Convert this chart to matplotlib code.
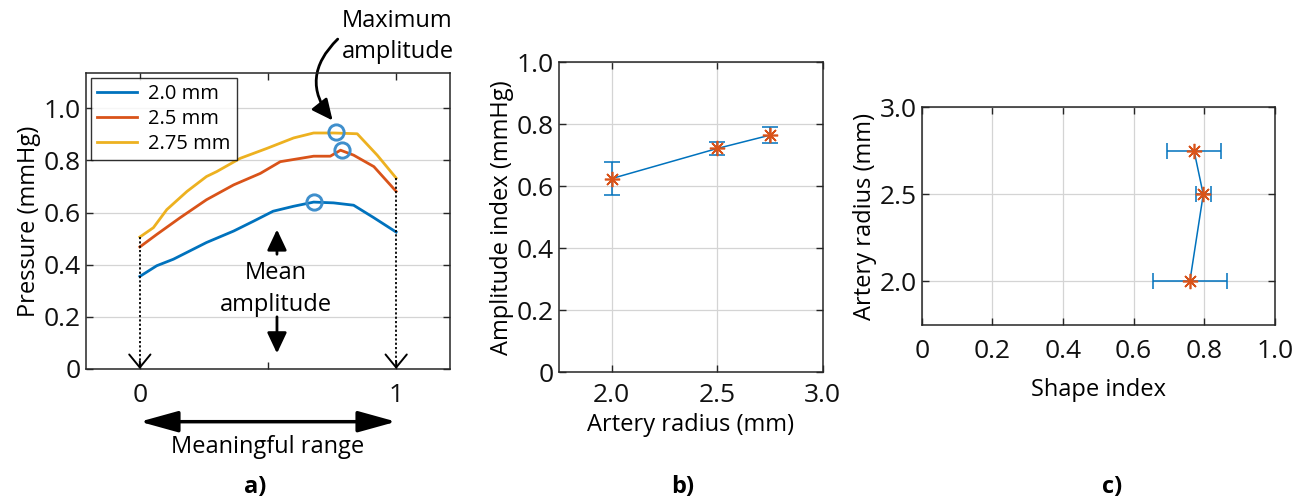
import matplotlib
matplotlib.use("Agg")
import matplotlib.pyplot as plt
import matplotlib.transforms as mtransforms
from matplotlib.patches import FancyArrowPatch

plt.rcParams['font.family'] = ['Open Sans', 'DejaVu Sans']
plt.rcParams['font.size'] = 17

# ---------------- data ----------------
# panel a: normalized pressure curves
x_20 = [0, 0.066, 0.131, 0.26, 0.366, 0.444, 0.52, 0.6, 0.678, 0.756, 0.834, 0.913, 1.0]
y_20 = [0.355, 0.396, 0.421, 0.485, 0.529, 0.567, 0.605, 0.624, 0.640, 0.637, 0.628, 0.58, 0.525]
x_25 = [0, 0.066, 0.157, 0.26, 0.366, 0.47, 0.548, 0.678, 0.743, 0.783, 0.834, 0.913, 1.0]
y_25 = [0.468, 0.516, 0.58, 0.649, 0.706, 0.75, 0.795, 0.816, 0.816, 0.839, 0.82, 0.776, 0.681]
x_275 = [0, 0.053, 0.105, 0.184, 0.26, 0.30, 0.392, 0.496, 0.60, 0.678, 0.756, 0.848, 0.926, 1.0]
y_275 = [0.506, 0.542, 0.611, 0.681, 0.738, 0.757, 0.808, 0.846, 0.886, 0.905, 0.905, 0.902, 0.82, 0.732]
series_labels = ['2.0 mm', '2.5 mm', '2.75 mm']
peak_x = [0.678, 0.79, 0.766]
peak_y = [0.640, 0.839, 0.909]

# panel b
radius = [2.0, 2.5, 2.75]
amp_index = [0.625, 0.722, 0.765]
amp_err = [0.054, 0.022, 0.026]

# panel c
shape_index = [0.759, 0.797, 0.771]
shape_err = [0.105, 0.021, 0.076]

a_yticks = [0, 0.2, 0.4, 0.6, 0.8, 1.0]
a_yticklabels = ['0', '0.2', '0.4', '0.6', '0.8', '1.0']
b_xticks = [2.0, 2.5, 3.0]
b_xticklabels = ['2.0', '2.5', '3.0']
c_xticks = [0, 0.2, 0.4, 0.6, 0.8, 1.0]
c_xticklabels = ['0', '0.2', '0.4', '0.6', '0.8', '1.0']

BLUE = '#0072BD'
ORANGE = '#D95319'
YELLOW = '#EDB120'
CIRC = '#3f8fcc'
FRAME = '#262626'
GRID = '#d4d4d4'
TICKFS = 19
LABFS = 17

fig = plt.figure(figsize=(13.07, 5.0), dpi=100)

def style(ax):
    for s in ax.spines.values():
        s.set_color(FRAME)
        s.set_linewidth(1.1)
    ax.tick_params(direction='in', length=5, width=1, colors=FRAME,
                   top=True, right=True, labelsize=TICKFS, labelcolor='#111111')

# ---------------- panel a ----------------
ax1 = fig.add_axes([0.0658, 0.262, 0.2785, 0.592])
ax1.set_xlim(-0.21, 1.21)
ax1.set_ylim(0, 1.135)
ax1.set_yticks(a_yticks)
ax1.set_yticklabels(a_yticklabels)
ax1.set_xticks([0, 0.5, 1])
ax1.set_xticklabels(['0', '', '1'])
ax1.grid(axis='y', color=GRID, lw=0.9)
ax1.set_axisbelow(True)
style(ax1)
ax1.tick_params(axis='x', pad=10)
ax1.set_ylabel('Pressure (mmHg)', fontsize=LABFS, labelpad=2)

l1, = ax1.plot(x_20, y_20, color=BLUE, lw=2)
l2, = ax1.plot(x_25, y_25, color=ORANGE, lw=2)
l3, = ax1.plot(x_275, y_275, color=YELLOW, lw=2)
ax1.plot(peak_x, peak_y, 'o', ms=11, mfc='none', mec=CIRC, mew=2.1, zorder=5)

leg = ax1.legend([l1, l2, l3], series_labels, loc='upper left', fontsize=14.5,
                 frameon=True, fancybox=False, edgecolor='black',
                 borderaxespad=0.25, handlelength=2.0, handletextpad=0.55,
                 labelspacing=0.25, borderpad=0.3)
leg.get_frame().set_linewidth(1.0)

# dotted verticals with open arrowheads
for xi, yi in ((x_275[0], y_275[0]), (x_275[-1], y_275[-1])):
    ax1.plot([xi, xi], [yi, 0.02], color='black', ls=(0, (1.2, 1.2)), lw=1.3, zorder=4)
    ax1.annotate('', xy=(xi, 0.0), xytext=(xi, 0.03),
                 arrowprops=dict(arrowstyle='->,head_length=0.55,head_width=0.45',
                                 color='black', lw=1.4, shrinkA=0, shrinkB=0))

# mean amplitude arrows and text
for y_from, y_to in ((0.44, 0.535), (0.2, 0.06)):
    ax1.annotate('', xy=(0.535, y_to), xytext=(0.535, y_from),
                 arrowprops=dict(arrowstyle='-|>,head_length=0.7,head_width=0.33',
                                 color='black', lw=2, shrinkA=0, shrinkB=0,
                                 mutation_scale=18))
ax1.text(0.53, 0.367, 'Mean', ha='center', va='center', fontsize=LABFS)
ax1.text(0.53, 0.245, 'amplitude', ha='center', va='center', fontsize=LABFS)

# maximum amplitude annotation
ax1.text(1.005, 1.336, 'Maximum', ha='center', va='center', fontsize=LABFS, clip_on=False)
ax1.text(1.005, 1.216, 'amplitude', ha='center', va='center', fontsize=LABFS, clip_on=False)
arr = FancyArrowPatch((0.772, 1.265), (0.752, 0.953),
                      connectionstyle='arc3,rad=0.45',
                      arrowstyle='-|>,head_length=0.7,head_width=0.33',
                      mutation_scale=18, color='black', lw=2,
                      shrinkA=0, shrinkB=0, clip_on=False)
ax1.add_patch(arr)

# meaningful range double arrow
trans = mtransforms.blended_transform_factory(ax1.transData, ax1.transAxes)
ax1.annotate('', xy=(0, -0.178), xytext=(1, -0.178), xycoords=trans, textcoords=trans,
             arrowprops=dict(arrowstyle='<|-|>,head_length=1.3,head_width=0.36',
                             color='black', lw=2.5, shrinkA=0, shrinkB=0,
                             mutation_scale=18), annotation_clip=False)
ax1.text(0.5, -0.2625, 'Meaningful range', transform=trans, ha='center', va='center',
         fontsize=LABFS)

# ---------------- panel b ----------------
ax2 = fig.add_axes([0.4277, 0.2554, 0.2018, 0.62])
ax2.set_xlim(1.75, 3.0)
ax2.set_ylim(0, 1.0)
ax2.set_xticks(b_xticks)
ax2.set_xticklabels(b_xticklabels)
ax2.set_yticks(a_yticks)
ax2.set_yticklabels(a_yticklabels)
ax2.grid(True, color=GRID, lw=0.9)
ax2.set_axisbelow(True)
style(ax2)
ax2.tick_params(axis='x', pad=8)
ax2.errorbar(radius, amp_index, yerr=amp_err, color=BLUE, lw=1.1, capsize=6,
             capthick=1.1, zorder=3)
ax2.plot(radius, amp_index, ls='none', marker=(8, 2, 0), ms=11, mec=ORANGE,
         mew=1.2, zorder=4)
ax2.set_xlabel('Artery radius (mm)', fontsize=LABFS, labelpad=3)
ax2.set_ylabel('Amplitude index (mmHg)', fontsize=LABFS, labelpad=2)

# ---------------- panel c ----------------
ax3 = fig.add_axes([0.7052, 0.35, 0.2703, 0.4354])
ax3.set_xlim(0, 1.0)
ax3.set_ylim(1.75, 3.0)
ax3.set_xticks(c_xticks)
ax3.set_xticklabels(c_xticklabels)
ax3.set_yticks(b_xticks)
ax3.set_yticklabels(b_xticklabels)
ax3.grid(True, color=GRID, lw=0.9)
ax3.set_axisbelow(True)
style(ax3)
ax3.tick_params(axis='x', pad=10)
ax3.errorbar(shape_index, radius, xerr=shape_err, color=BLUE, lw=1.1, capsize=6,
             capthick=1.1, zorder=3)
ax3.plot(shape_index, radius, ls='none', marker=(8, 2, 0), ms=11, mec=ORANGE,
         mew=1.2, zorder=4)
ax3.set_xlabel('Shape index', fontsize=LABFS, labelpad=10)
ax3.set_ylabel('Artery radius (mm)', fontsize=LABFS, labelpad=2)

# panel labels
for xf, lab in ((0.195, 'a)'), (0.5226, 'b)'), (0.851, 'c)')):
    fig.text(xf, 0.026, lab, ha='center', va='center', fontsize=LABFS, fontweight='bold')

fig.savefig('out.png', dpi=100)
